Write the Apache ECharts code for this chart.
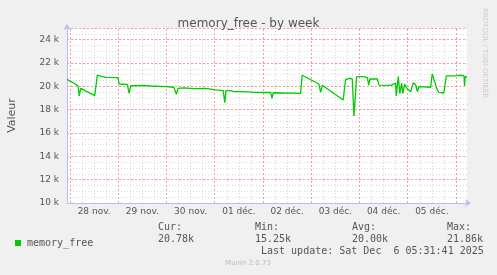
<!DOCTYPE html>
<html><head><meta charset="utf-8">
<script src="https://cdn.jsdelivr.net/npm/echarts@6/dist/echarts.min.js"></script>
<style>html,body{margin:0;padding:0;background:#f0f0f0}#c{width:497px;height:275px}</style>
</head><body><div id="c"></div>
<script>
// hours since 28 nov. 00:00
const hours = [-1.5,1.6,4.0,4.6,5.3,12.3,12.9,13.6,14.7,17.8,23.9,24.4,28.5,29.4,30.2,36.8,40.1,47.6,51.7,52.9,53.7,56.7,61.7,67.5,68.3,72.5,76.2,77.0,77.6,79.9,81.6,86.5,91.5,96.5,99.8,100.5,101.1,114.7,115.5,123.8,124.7,125.5,135.9,137.1,139.3,140.4,141.3,142.6,146.2,147.9,148.6,149.2,152.9,153.7,159.5,162.0,162.3,163.3,164.1,165.0,165.6,166.5,167.5,168.3,169.5,170.8,172.0,172.8,173.6,179.4,180.2,181.4,182.7,183.5,186.0,187.2,191.0,192.6,194.3,196.0,196.3,196.6,197.5];
const values = [20600,20310,20030,19170,19830,19200,19180,20970,20890,20770,20740,20200,20170,19400,20050,20090,20030,19970,19920,19320,19830,19860,19800,19830,19750,19690,19630,18600,19630,19630,19540,19540,19490,19470,19470,18970,19450,19400,20950,20200,19490,20090,18830,20600,20690,20630,17460,20830,20830,20770,20110,20630,20630,20110,20090,20260,19170,20830,19400,20260,19400,20200,19830,19830,19540,20310,20110,19540,19970,19920,21060,20400,19690,19490,19430,20890,20890,20910,20950,20890,20030,20830,20800];
const dayLabels = ['28 nov.','29 nov.','30 nov.','01 déc.','02 déc.','03 déc.','04 déc.','05 déc.'];
const dayLabelHours = [12,36,60,84,108,132,156,180];
const majorGridHours = [0,24,48,72,96,120,144,168,192];
const minorGridHours = [6,12,18,30,36,42,54,60,66,78,84,90,102,108,114,126,132,138,150,156,162,174,180,186];
const statHeaders = ['Cur:','Min:','Avg:','Max:'];
const statValues = ['20.78k','15.25k','20.00k','21.86k'];
const seriesName = 'memory_free';
const lastUpdate = 'Last update: Sat Dec  6 05:31:41 2025';

const GREEN = '#00cc00';
const MINOR = '#d9d9d9';
const MAJOR = '#eda3a3';
const AXIS = '#bcbcf2';
const MONO = '"DejaVu Sans Mono", monospace';
const SANS = '"DejaVu Sans", sans-serif';
const statX = [158, 255, 352, 447];

const chart = echarts.init(document.getElementById('c'), null, {renderer: 'canvas'});
const vLines = minorGridHours.map(h => ({xAxis: h, lineStyle: {color: MINOR, type: [1, 2], width: 1}}))
  .concat(majorGridHours.map(h => ({xAxis: h, lineStyle: {color: MAJOR, type: [2, 2], width: 1}})));

const graphics = [
  {type: 'text', left: 481, top: 8, rotation: -Math.PI / 2, originX: 0, originY: 0,
   style: {text: 'RRDTOOL / TOBI OETIKER', font: '7px ' + SANS, fill: '#cccccc'}},
];
statHeaders.forEach((t, i) => {
  graphics.push({type: 'text', x: statX[i], y: 222, style: {text: t, font: '10px ' + MONO, fill: '#555'}});
  graphics.push({type: 'text', x: statX[i], y: 234, style: {text: statValues[i], font: '10px ' + MONO, fill: '#555'}});
});
graphics.push({type: 'text', x: 261, y: 246, style: {text: lastUpdate, font: '10px ' + MONO, fill: '#555'}});
graphics.push({type: 'text', x: 248, y: 260, style: {text: 'Munin 2.0.73', font: '7px ' + SANS, fill: '#bbbbbb', align: 'center'}});

chart.setOption({
  backgroundColor: '#f0f0f0',
  animation: false,
  title: {text: 'memory_free - by week', left: 'center', top: 13,
    textStyle: {fontFamily: SANS, fontSize: 12, fontWeight: 'normal', color: '#555'}},
  legend: {data: [seriesName], left: 10, top: 233, icon: 'rect', itemWidth: 6, itemHeight: 6, itemGap: 4,
    textStyle: {fontFamily: MONO, fontSize: 10, color: '#555', padding: [0, 0, 0, 1]}},
  grid: {left: 67, right: 30, top: 28, bottom: 72, show: true, backgroundColor: '#ffffff', borderWidth: 0,
    containLabel: false, outerBoundsMode: 'none'},
  xAxis: [{
    type: 'value', min: -1.5, max: 197.5, z: 3,
    axisLine: {show: true, lineStyle: {color: AXIS, width: 1}, symbol: ['none', 'arrow'], symbolSize: [6, 6], symbolOffset: [0, 4]},
    axisTick: {show: false},
    splitLine: {show: false},
    axisLabel: {customValues: dayLabelHours, formatter: v => dayLabels[dayLabelHours.indexOf(v)],
      fontFamily: SANS, fontSize: 9, color: '#555', margin: 4}
  }],
  yAxis: [{
    type: 'value', min: 10000, max: 25000, interval: 500, z: 0,
    axisLine: {show: false},
    axisTick: {show: false}, axisLabel: {show: false},
    splitLine: {show: true, lineStyle: {color: MINOR, type: [1, 2], width: 1}}
  }, {
    type: 'value', min: 10000, max: 25000, interval: 2000, position: 'left', z: 2,
    name: 'Valeur', nameLocation: 'middle', nameGap: 49, nameRotate: 90,
    nameTextStyle: {fontFamily: SANS, fontSize: 11, color: '#555'},
    axisLine: {show: true, lineStyle: {color: AXIS, width: 1}, symbol: ['none', 'arrow'], symbolSize: [6, 6], symbolOffset: [0, 4]},
    axisTick: {show: false},
    axisLabel: {formatter: v => (v / 1000) + ' k', fontFamily: SANS, fontSize: 9, color: '#555', margin: 8, showMaxLabel: false},
    splitLine: {show: true, lineStyle: {color: MAJOR, type: [2, 2], width: 1}}
  }],
  series: [{
    name: 'grid', type: 'line', data: [], silent: true, z: 1,
    markLine: {silent: true, symbol: ['none', 'none'], label: {show: false}, z: 1, animation: false, data: vLines}
  }, {
    name: seriesName, type: 'line', yAxisIndex: 0, z: 5,
    data: hours.map((h, i) => [h, values[i]]),
    showSymbol: false, symbol: 'none',
    lineStyle: {color: GREEN, width: 1.3}, itemStyle: {color: GREEN}
  }],
  graphic: graphics
});
</script></body></html>
